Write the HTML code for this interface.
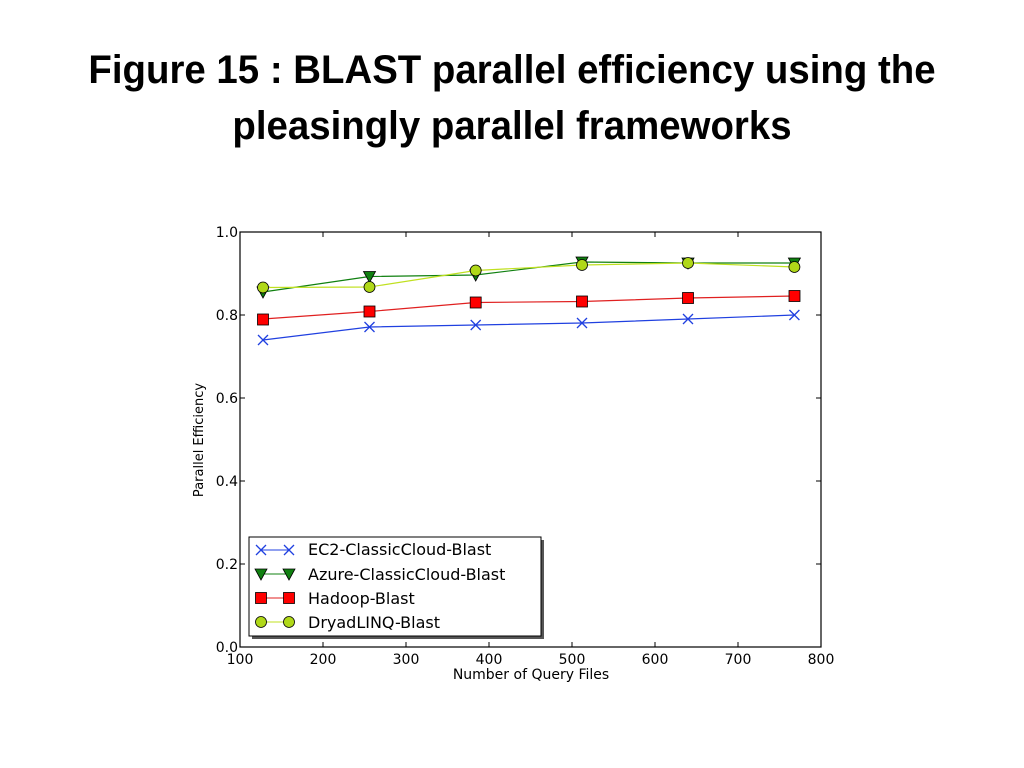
<!DOCTYPE html>
<html><head><meta charset="utf-8"><style>
body{margin:0;width:1024px;height:768px;background:#fff;overflow:hidden;font-family:"Liberation Sans",sans-serif}
h1{position:absolute;left:0;width:1024px;top:42px;margin:0;text-align:center;font-family:"Liberation Sans Narrow","Liberation Sans",sans-serif;font-weight:bold;font-size:40px;line-height:56px;color:#000;transform:scaleX(0.96)}
</style></head><body>
<h1>Figure 15 : BLAST parallel efficiency using the<br>pleasingly parallel frameworks</h1>
<svg width="1024" height="768" style="position:absolute;left:0;top:0" font-family="DejaVu Sans, sans-serif">
<rect x="240" y="232" width="581" height="415" fill="none" stroke="#000" stroke-width="1.2"/>
<g stroke="#000" stroke-width="1">
<line x1="323" y1="647" x2="323" y2="642"/><line x1="406" y1="647" x2="406" y2="642"/><line x1="489" y1="647" x2="489" y2="642"/><line x1="572" y1="647" x2="572" y2="642"/><line x1="655" y1="647" x2="655" y2="642"/><line x1="738" y1="647" x2="738" y2="642"/>
<line x1="323" y1="232" x2="323" y2="237"/><line x1="406" y1="232" x2="406" y2="237"/><line x1="489" y1="232" x2="489" y2="237"/><line x1="572" y1="232" x2="572" y2="237"/><line x1="655" y1="232" x2="655" y2="237"/><line x1="738" y1="232" x2="738" y2="237"/>
<line x1="240" y1="564" x2="245" y2="564"/><line x1="240" y1="481" x2="245" y2="481"/><line x1="240" y1="398" x2="245" y2="398"/><line x1="240" y1="315" x2="245" y2="315"/>
<line x1="821" y1="564" x2="816" y2="564"/><line x1="821" y1="481" x2="816" y2="481"/><line x1="821" y1="398" x2="816" y2="398"/><line x1="821" y1="315" x2="816" y2="315"/>
</g>
<g font-size="14" fill="#000" text-anchor="middle">
<text x="240" y="664">100</text><text x="323" y="664">200</text><text x="406" y="664">300</text><text x="489" y="664">400</text><text x="572" y="664">500</text><text x="655" y="664">600</text><text x="738" y="664">700</text><text x="821" y="664">800</text>
</g>
<g font-size="14" fill="#000" text-anchor="end">
<text x="238" y="652">0.0</text><text x="238" y="569">0.2</text><text x="238" y="486">0.4</text><text x="238" y="403">0.6</text><text x="238" y="320">0.8</text><text x="238" y="237">1.0</text>
</g>
<text x="531" y="679" font-size="14" text-anchor="middle">Number of Query Files</text>
<text transform="translate(203,440) rotate(-90)" font-size="13" text-anchor="middle">Parallel Efficiency</text>
<polyline fill="none" stroke="#2040e0" stroke-width="1.2" points="263,340 369.5,327 475.7,325 582,323 688,319 794.4,315"/>
<g stroke="#2040e0" stroke-width="1.3">
<path d="M258,335l10,10M258,345l10,-10"/><path d="M364.5,322l10,10M364.5,332l10,-10"/><path d="M470.7,320l10,10M470.7,330l10,-10"/><path d="M577,318l10,10M577,328l10,-10"/><path d="M683,314l10,10M683,324l10,-10"/><path d="M789.4,310l10,10M789.4,320l10,-10"/>
</g>
<polyline fill="none" stroke="#108010" stroke-width="1.2" points="263,292 369.5,276.5 475.7,275 582,262 688,263 794.4,263"/>
<g fill="#108010" stroke="#000" stroke-width="0.8">
<path d="M257,287h12l-6,11z"/><path d="M363.5,271.5h12l-6,11z"/><path d="M469.7,270h12l-6,11z"/><path d="M576,257h12l-6,11z"/><path d="M682,258h12l-6,11z"/><path d="M788.4,258h12l-6,11z"/>
</g>
<polyline fill="none" stroke="#e02020" stroke-width="1.2" points="263,319 369.5,311.5 475.7,302.5 582,301.5 688,298 794.4,296"/>
<g fill="#f00" stroke="#000" stroke-width="0.8">
<rect x="257.5" y="314" width="11" height="11"/><rect x="364" y="306" width="11" height="11"/><rect x="470.2" y="297" width="11" height="11"/><rect x="576.5" y="296" width="11" height="11"/><rect x="682.5" y="292.5" width="11" height="11"/><rect x="789" y="290.5" width="11" height="11"/>
</g>
<polyline fill="none" stroke="#c0e020" stroke-width="1.2" points="263,287.5 369.5,287 475.7,270.5 582,265 688,263 794.4,267"/>
<g fill="#b0d818" stroke="#000" stroke-width="0.8">
<circle cx="263" cy="287.5" r="5.5"/><circle cx="369.5" cy="287" r="5.5"/><circle cx="475.7" cy="270.5" r="5.5"/><circle cx="582" cy="265" r="5.5"/><circle cx="688" cy="263" r="5.5"/><circle cx="794.4" cy="267" r="5.5"/>
</g>
<rect x="252" y="540" width="292" height="99" fill="#555"/>
<rect x="249" y="537" width="292" height="99" fill="#fff" stroke="#000" stroke-width="1"/>
<g font-size="16" fill="#000">
<text x="308" y="555">EC2-ClassicCloud-Blast</text>
<text x="308" y="580">Azure-ClassicCloud-Blast</text>
<text x="308" y="604">Hadoop-Blast</text>
<text x="308" y="628">DryadLINQ-Blast</text>
</g>
<line x1="261" y1="550" x2="289" y2="550" stroke="#2040e0"/>
<path d="M256,545l10,10M256,555l10,-10M284,545l10,10M284,555l10,-10" stroke="#2040e0" stroke-width="1.3"/>
<line x1="261" y1="574" x2="289" y2="574" stroke="#108010"/>
<path d="M255,569h12l-6,11zM283,569h12l-6,11z" fill="#108010" stroke="#000" stroke-width="0.8"/>
<line x1="261" y1="598" x2="289" y2="598" stroke="#e02020"/>
<rect x="255.5" y="592.5" width="11" height="11" fill="#f00" stroke="#000" stroke-width="0.8"/>
<rect x="283.5" y="592.5" width="11" height="11" fill="#f00" stroke="#000" stroke-width="0.8"/>
<line x1="261" y1="622" x2="289" y2="622" stroke="#c0e020"/>
<circle cx="261" cy="622" r="5.5" fill="#b0d818" stroke="#000" stroke-width="0.8"/>
<circle cx="289" cy="622" r="5.5" fill="#b0d818" stroke="#000" stroke-width="0.8"/>
</svg>
</body></html>
